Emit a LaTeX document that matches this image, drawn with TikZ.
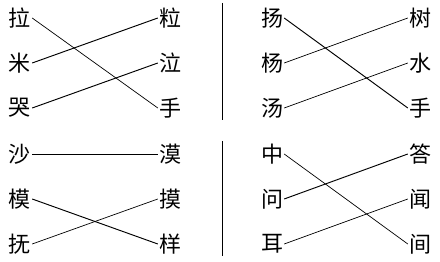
\documentclass[tikz,border=0pt]{standalone}
\usepackage{fontspec}
\setmainfont{Noto Sans CJK SC}
\begin{document}
\begin{tikzpicture}[x=1pt,y=1pt,
  ch/.style={inner sep=1pt,font=\fontsize{22}{22}\selectfont},
  link/.style={line width=0.7pt},
  thk/.style={line width=0.95pt},
  divider/.style={line width=0.9pt}]
\useasboundingbox (0,0) rectangle (440,262);
% top-left
\node[ch] (a1) at (20,244) {拉};
\node[ch] (a2) at (20,199) {米};
\node[ch] (a3) at (20,154) {哭};
\node[ch] (b1) at (170,244) {粒};
\node[ch] (b2) at (170,199) {泣};
\node[ch] (b3) at (170,154) {手};
\draw[link] (a1.east) -- (b3.west);
\draw[thk] (a2.east) -- (b1.west);
\draw[thk] (a3.east) -- (b2.west);
% top-right
\node[ch] (c1) at (272,244) {扬};
\node[ch] (c2) at (272,199) {杨};
\node[ch] (c3) at (272,154) {汤};
\node[ch] (d1) at (420,244) {树};
\node[ch] (d2) at (420,199) {水};
\node[ch] (d3) at (420,154) {手};
\draw[thk] (c1.east) -- (d3.west);
\draw[link] (c2.east) -- (d1.west);
\draw[link] (c3.east) -- (d2.west);
% bottom-left
\node[ch] (e1) at (20,108) {沙};
\node[ch] (e2) at (20,63) {模};
\node[ch] (e3) at (20,18) {抚};
\node[ch] (f1) at (170,108) {漠};
\node[ch] (f2) at (170,63) {摸};
\node[ch] (f3) at (170,18) {样};
\draw[thk] (e1.east) -- (f1.west);
\draw[thk] (e2.east) -- (f3.west);
\draw[link] (e3.east) -- (f2.west);
% bottom-right
\node[ch] (g1) at (272,108) {中};
\node[ch] (g2) at (272,63) {问};
\node[ch] (g3) at (272,18) {耳};
\node[ch] (h1) at (420,108) {答};
\node[ch] (h2) at (420,63) {闻};
\node[ch] (h3) at (420,18) {间};
\draw[link] (g1.east) -- (h3.west);
\draw[thk] (g2.east) -- (h1.west);
\draw[link] (g3.east) -- (h2.west);
% dividers
\coordinate (t1) at (222,259);
\coordinate (t2) at (222,142);
\coordinate (u1) at (222,121);
\coordinate (u2) at (222,6);
\draw[divider] (t1) -- (t2);
\draw[divider] (u1) -- (u2);
\end{tikzpicture}
\end{document}
